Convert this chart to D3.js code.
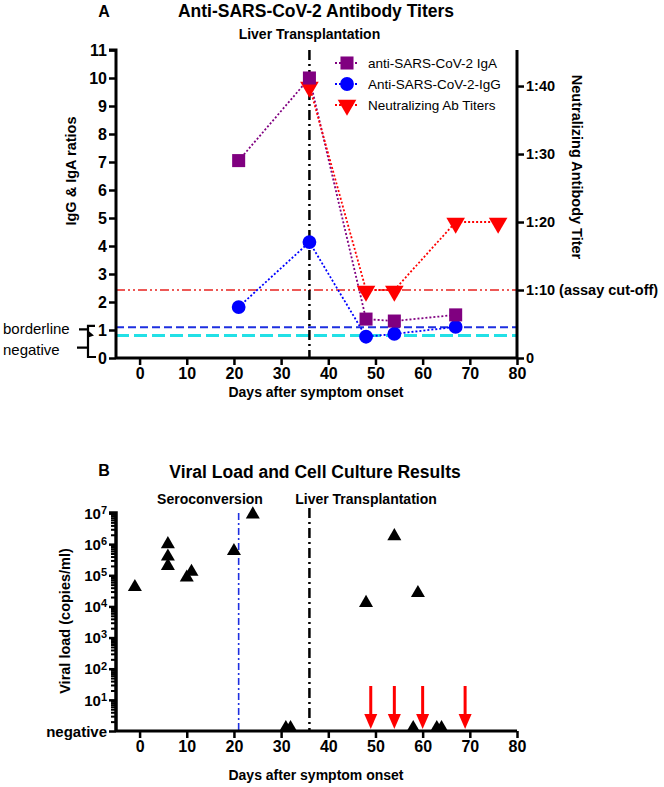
<!DOCTYPE html>
<html><head><meta charset="utf-8">
<script src="https://cdn.jsdelivr.net/npm/d3@7"></script>
<style>
body{margin:0;background:#fff;}
svg{display:block;font-family:"Liberation Sans",Arial,sans-serif;}
</style></head><body>
<svg id="c" width="664" height="787"></svg>
<script>
// ---------- DATA ----------
const igaDays = [21, 36, 48, 54, 67];
const igaValues = [7.05, 10.0, 1.39, 1.32, 1.54];
const iggDays = [21, 36, 48, 54, 67];
const iggValues = [1.82, 4.14, 0.76, 0.86, 1.11];
const nabDays = [36, 48, 54, 67, 76];
const nabValues = [40, 10, 10, 20, 20];
const leftTicks = [0,1,2,3,4,5,6,7,8,9,10,11];
const rightTicks = [0,10,20,30,40];
const rightTickLabels = ["0","1:10 (assay cut-off)","1:20","1:30","1:40"];
const xTicks = [0,10,20,30,40,50,60,70,80];
const borderlineCut = 1.1;
const negativeCut = 0.8;
const nabCutoff = 10;
const transplantDay = 36;
const seroconversionDay = 21;
const legendLabels = ["anti-SARS-CoV-2 IgA","Anti-SARS-CoV-2-IgG","Neutralizing Ab Titers"];

const vlDays = [-1, 6, 6, 6, 10, 11, 20, 24, 31, 32, 48, 54, 58, 59, 63, 64];
const vlValues = [4.2e4, 1e6, 4e5, 2e5, 8.5e4, 1.3e5, 6e5, 9e6, 1, 1, 1.3e4, 1.8e6, 1, 2.7e4, 1, 1];
const cultureDays = [49, 54, 60, 69];
const logTicks = [1,1e1,1e2,1e3,1e4,1e5,1e6,1e7];
const logTickExp = ["negative","1","2","3","4","5","6","7"];

// ---------- SETUP ----------
const svg = d3.select("#c");
const bold = "bold";

function styleAxis(g, fs){
  g.select(".domain").attr("stroke","#000").attr("stroke-width",3);
  g.selectAll(".tick line").attr("stroke","#000").attr("stroke-width",2.5);
  g.selectAll(".tick text").attr("fill","#000").style("font-size",(fs||16)+"px").style("font-weight","bold")
   .style("font-family","'Liberation Sans',Arial,sans-serif");
}

// ---------- PANEL A ----------
const xA = d3.scaleLinear().domain([-5,80]).range([116,517]);
const yL = d3.scaleLinear().domain([0,11]).range([358,50]);
const yR = d3.scaleLinear().domain([0,45.3]).range([358,50]);

const A = svg.append("g");
A.append("text").attr("x",104).attr("y",17).attr("text-anchor","middle").attr("font-size",16).attr("font-weight",bold).text("A");
A.append("text").attr("x",316).attr("y",17).attr("text-anchor","middle").attr("font-size",17.5).attr("font-weight",bold).text("Anti-SARS-CoV-2 Antibody Titers");
A.append("text").attr("x",xA(transplantDay)).attr("y",39).attr("text-anchor","middle").attr("font-size",14).attr("font-weight",bold).text("Liver Transplantation");

// reference lines
A.append("line").attr("x1",xA(-5)).attr("x2",xA(80)).attr("y1",yR(nabCutoff)).attr("y2",yR(nabCutoff))
  .attr("stroke","#e8231f").attr("stroke-width",1.6).attr("stroke-dasharray","9,3,2,3,2,3");
A.append("line").attr("x1",xA(-5)).attr("x2",xA(80)).attr("y1",yL(borderlineCut)).attr("y2",yL(borderlineCut))
  .attr("stroke","#1d2fe0").attr("stroke-width",2).attr("stroke-dasharray","8,4");
A.append("line").attr("x1",xA(-5)).attr("x2",xA(80)).attr("y1",yL(negativeCut)).attr("y2",yL(negativeCut))
  .attr("stroke","#22e0e6").attr("stroke-width",3).attr("stroke-dasharray","13,5");
A.append("line").attr("x1",xA(transplantDay)).attr("x2",xA(transplantDay)).attr("y1",yL(11)).attr("y2",yL(0))
  .attr("stroke","#000").attr("stroke-width",2.5).attr("stroke-dasharray","10,4,2,4");

// axes
const axL = A.append("g").attr("transform",`translate(${xA(-5)},0)`)
  .call(d3.axisLeft(yL).tickValues(leftTicks).tickSize(7).tickPadding(2).tickFormat(d3.format("d")));
styleAxis(axL);
const axR = A.append("g").attr("transform",`translate(${xA(80)},0)`)
  .call(d3.axisRight(yR).tickValues(rightTicks).tickSize(7).tickPadding(2).tickFormat((d,i)=>rightTickLabels[i]));
styleAxis(axR, 14.5);
const axB = A.append("g").attr("transform",`translate(0,${yL(0)})`)
  .call(d3.axisBottom(xA).tickValues(xTicks).tickSize(7).tickPadding(3));
styleAxis(axB);
axL.select(".domain").attr("d",`M-7,${yL(11)}H0V${yL(0)}`);
axR.select(".domain").attr("d",`M0,${yL(11)}V${yL(0)}`);
axB.select(".domain").attr("d",`M${xA(-5)},0H${xA(80)}`);

A.append("text").attr("transform",`translate(76,171) rotate(-90)`).attr("text-anchor","middle")
  .attr("font-size",14.5).attr("font-weight",bold).text("IgG & IgA ratios");
A.append("text").attr("transform",`translate(572,167) rotate(90)`).attr("text-anchor","middle")
  .attr("font-size",14.5).attr("font-weight",bold).text("Neutralizing Antibody Titer");
A.append("text").attr("x",316).attr("y",397).attr("text-anchor","middle")
  .attr("font-size",14).attr("font-weight",bold).text("Days after symptom onset");

// bracket for borderline/negative
const bx = 88;
A.append("path").attr("fill","none").attr("stroke","#000").attr("stroke-width",2.2)
  .attr("d",`M${bx+7},${yL(1.15)}H${bx}V${yL(negativeCut)} M${bx-9},${yL(1.02)}H${bx}
             M${bx},${yL(negativeCut)}V${yL(0)-1}H${bx+8} M${bx-11},${yL(0.37)}H${bx}`);
A.append("path").attr("fill","#000").attr("d",`M${bx},${yL(negativeCut)-5}L${bx+6},${yL(negativeCut)}L${bx},${yL(negativeCut)+2}Z`);
A.append("text").attr("x",3).attr("y",yL(1.02)+5).attr("font-size",15).text("borderline");
A.append("text").attr("x",3).attr("y",yL(0.3)+5).attr("font-size",15).text("negative");

// series
const C_IGA = "#800080", C_IGG = "#0000ff", C_NAB = "#ff0000";
const lineL = d3.line().x(d=>xA(d[0])).y(d=>yL(d[1]));
const lineR = d3.line().x(d=>xA(d[0])).y(d=>yR(d[1]));
const igaPts = igaDays.map((d,i)=>[d,igaValues[i]]);
const iggPts = iggDays.map((d,i)=>[d,iggValues[i]]);
const nabPts = nabDays.map((d,i)=>[d,nabValues[i]]);

A.append("path").attr("d",lineL(igaPts)).attr("fill","none").attr("stroke",C_IGA).attr("stroke-width",1.8).attr("stroke-dasharray","2,2");
A.append("path").attr("d",lineL(iggPts)).attr("fill","none").attr("stroke",C_IGG).attr("stroke-width",1.8).attr("stroke-dasharray","2,2");
A.append("path").attr("d",lineR(nabPts)).attr("fill","none").attr("stroke",C_NAB).attr("stroke-width",1.8).attr("stroke-dasharray","2,2");

const sq = d3.symbol().type(d3.symbolSquare).size(170);
const ci = d3.symbol().type(d3.symbolCircle).size(150);
const triDown = d3.symbol().type(d3.symbolTriangle).size(150);

A.selectAll(".nab").data(nabPts).join("path").attr("d",triDown)
  .attr("transform",d=>`translate(${xA(d[0])},${yR(d[1])+1}) rotate(180)`).attr("fill",C_NAB);
A.selectAll(".igg").data(iggPts).join("path").attr("d",ci)
  .attr("transform",d=>`translate(${xA(d[0])},${yL(d[1])})`).attr("fill",C_IGG);
A.selectAll(".iga").data(igaPts).join("path").attr("d",sq)
  .attr("transform",d=>`translate(${xA(d[0])},${yL(d[1])})`).attr("fill",C_IGA);

// legend
const legColors = [C_IGA, C_IGG, C_NAB];
const legSyms = [sq, ci, triDown];
const legY = [63, 84, 105];
legendLabels.forEach((lab,i)=>{
  const g = A.append("g").attr("transform",`translate(347,${legY[i]})`);
  g.append("line").attr("x1",-12).attr("x2",12).attr("stroke",legColors[i]).attr("stroke-width",1.8).attr("stroke-dasharray","2,2");
  g.append("path").attr("d",legSyms[i]).attr("fill",legColors[i]).attr("transform",i===2?"rotate(180)":"");
  g.append("text").attr("x",21).attr("y",5).attr("font-size",13.5).text(lab);
});

// ---------- PANEL B ----------
const xB = d3.scaleLinear().domain([-5,80]).range([116,517]);
const yB = d3.scaleLog().domain([1,1e7]).range([731,513]);
const B = svg.append("g");
B.append("text").attr("x",104).attr("y",476).attr("text-anchor","middle").attr("font-size",16).attr("font-weight",bold).text("B");
B.append("text").attr("x",315).attr("y",478).attr("text-anchor","middle").attr("font-size",17.5).attr("font-weight",bold).text("Viral Load and Cell Culture Results");
B.append("text").attr("x",210).attr("y",504).attr("text-anchor","middle").attr("font-size",14).attr("font-weight",bold).text("Seroconversion");
B.append("text").attr("x",366).attr("y",504).attr("text-anchor","middle").attr("font-size",14).attr("font-weight",bold).text("Liver Transplantation");

B.append("line").attr("x1",xB(seroconversionDay)).attr("x2",xB(seroconversionDay)).attr("y1",yB(1e7)).attr("y2",yB(1))
  .attr("stroke","#1d2fe0").attr("stroke-width",1.6).attr("stroke-dasharray","7,3,2,3");
B.append("line").attr("x1",xB(transplantDay)).attr("x2",xB(transplantDay)).attr("y1",yB(1e7)-5).attr("y2",yB(1))
  .attr("stroke","#000").attr("stroke-width",2.5).attr("stroke-dasharray","10,4,2,4");

// log axis with minor ticks
const minor = [];
for(let e=0;e<7;e++){ for(let k=2;k<=9;k++){ minor.push(k*Math.pow(10,e)); } }
const axMinor = B.append("g").attr("transform",`translate(${xB(-5)},0)`)
  .call(d3.axisLeft(yB).tickValues(minor).tickSize(5).tickFormat(""));
styleAxis(axMinor);
axMinor.selectAll(".tick line").attr("stroke-width",2);
const axLog = B.append("g").attr("transform",`translate(${xB(-5)},0)`)
  .call(d3.axisLeft(yB).tickValues(logTicks).tickSize(7).tickPadding(2).tickFormat(""));
styleAxis(axLog);
axLog.select(".domain").attr("d",`M-7,${yB(1e7)}H0V${yB(1)}`).attr("stroke-width",3.5);
axMinor.select(".domain").remove();
axLog.selectAll(".tick").each(function(d,i){
  const t = d3.select(this).append("text").attr("x",-9).attr("dy","0.35em").attr("text-anchor","end")
    .attr("fill","#000").style("font-size","15px").style("font-weight","bold");
  if(i===0){ t.text(logTickExp[i]); }
  else { t.text("10"); t.append("tspan").attr("dy","-0.45em").style("font-size","11px").text(logTickExp[i]); }
});

const axBB = B.append("g").attr("transform",`translate(0,${yB(1)})`)
  .call(d3.axisBottom(xB).tickValues(xTicks).tickSize(7).tickPadding(3));
styleAxis(axBB);
axBB.select(".domain").attr("d",`M${xB(-5)},0H${xB(80)}`);

B.append("text").attr("transform",`translate(70,621) rotate(-90)`).attr("text-anchor","middle")
  .attr("font-size",14.5).attr("font-weight",bold).text("Viral load (copies/ml)");
B.append("text").attr("x",316).attr("y",780).attr("text-anchor","middle")
  .attr("font-size",14).attr("font-weight",bold).text("Days after symptom onset");

// culture arrows
B.selectAll(".arr").data(cultureDays).join("g").each(function(d){
  const g = d3.select(this); const x = xB(d);
  g.append("line").attr("x1",x).attr("x2",x).attr("y1",686).attr("y2",716).attr("stroke","#ff0000").attr("stroke-width",3);
  g.append("path").attr("d",`M${x-6.5},${714}L${x+6.5},${714}L${x},${729}Z`).attr("fill","#ff0000");
});

// viral load points
const triUp = d3.symbol().type(d3.symbolTriangle).size(85);
const vlPts = vlDays.map((d,i)=>[d,vlValues[i]]);
B.selectAll(".vl").data(vlPts).join("path").attr("d",triUp)
  .attr("transform",d=>`translate(${xB(d[0])},${yB(d[1])-(d[1]===1?3:0)})`).attr("fill","#000");
</script>
</body></html>
